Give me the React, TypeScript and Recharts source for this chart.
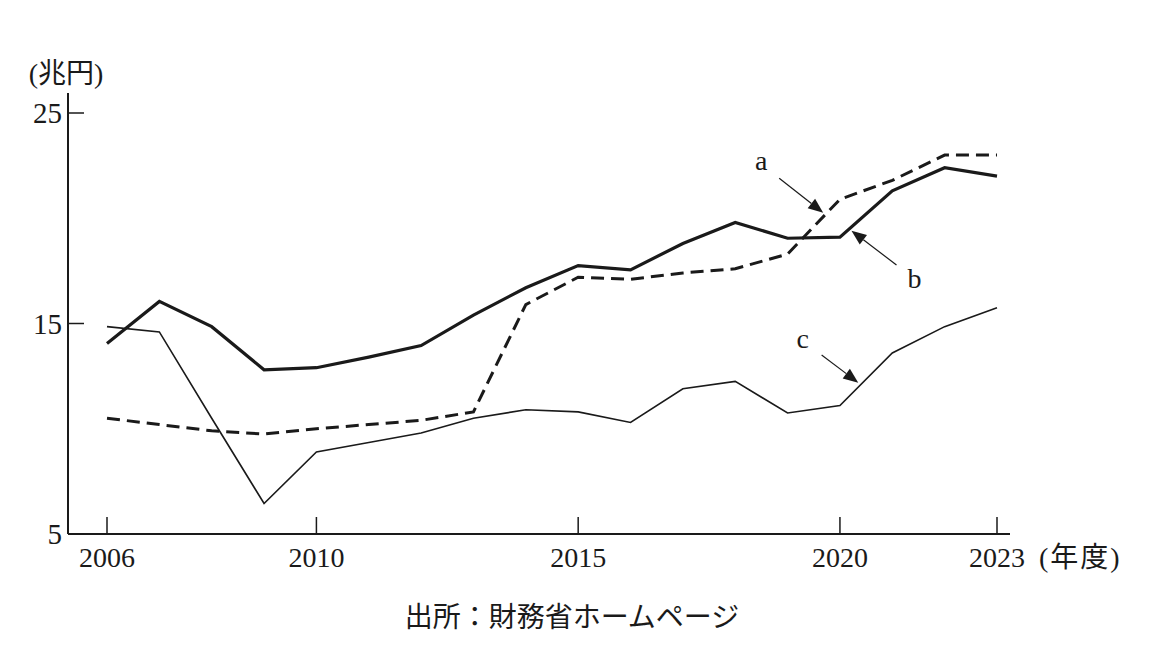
import { LineChart, Line, XAxis, YAxis, ReferenceLine } from 'recharts'

const years = [2006, 2007, 2008, 2009, 2010, 2011, 2012, 2013, 2014, 2015, 2016, 2017, 2018, 2019, 2020, 2021, 2022, 2023]
const seriesA = [10.5, 10.2, 9.9, 9.75, 10.0, 10.2, 10.4, 10.8, 15.9, 17.2, 17.1, 17.4, 17.6, 18.3, 20.9, 21.8, 23.0, 23.0]
const seriesB = [14.05, 16.05, 14.85, 12.8, 12.9, 13.4, 13.95, 15.4, 16.7, 17.75, 17.55, 18.8, 19.8, 19.05, 19.1, 21.3, 22.4, 22.0]
const seriesC = [14.85, 14.6, 10.5, 6.45, 8.9, 9.35, 9.8, 10.5, 10.9, 10.8, 10.3, 11.9, 12.25, 10.75, 11.1, 13.6, 14.85, 15.75]

const xTicks = [2006, 2010, 2015, 2020, 2023]
const yTicks = [5, 15, 25]

// annotation arrows: label, start (year, value), tip (year, value)
const arrows = [
  { label: 'a', from: { x: 2018.84, y: 21.9 }, to: { x: 2019.68, y: 20.26 }, dx: -18, dy: -8 },
  { label: 'b', from: { x: 2021.08, y: 17.78 }, to: { x: 2020.22, y: 19.41 }, dx: 18, dy: 23 },
  { label: 'c', from: { x: 2019.65, y: 13.5 }, to: { x: 2020.35, y: 12.19 }, dx: -19, dy: -7 },
]

const data = years.map((year, i) => ({ year, a: seriesA[i], b: seriesB[i], c: seriesC[i] }))

const FONT = "'Liberation Serif', 'Noto Sans CJK JP', serif"
const INK = '#1a1a1a'

const XTick = (props: any) => {
  const { x, y, payload } = props
  return (
    <g>
      <line x1={x} y1={y} x2={x} y2={y - 17} stroke={INK} strokeWidth={1.5} />
      <text x={x} y={y + 33} textAnchor="middle" fontSize={28} fontFamily={FONT} fill={INK}>
        {payload.value}
      </text>
    </g>
  )
}

const YTick = (props: any) => {
  const { x, y, payload } = props
  return (
    <g>
      <line x1={x} y1={y} x2={x + 16} y2={y} stroke={INK} strokeWidth={1.5} />
      <text x={x - 6} y={y + 10} textAnchor="end" fontSize={29} fontFamily={FONT} fill={INK}>
        {payload.value}
      </text>
    </g>
  )
}

const arrowShape = (label: string, dx: number, dy: number) => (props: any) => {
  const { x1, y1, x2, y2 } = props
  const len = Math.hypot(x2 - x1, y2 - y1)
  const ux = (x2 - x1) / len
  const uy = (y2 - y1) / len
  const head = 15
  const half = 6
  const bx = x2 - ux * head
  const by = y2 - uy * head
  const pts = `${x2},${y2} ${bx - uy * half},${by + ux * half} ${bx + uy * half},${by - ux * half}`
  return (
    <g>
      <line x1={x1} y1={y1} x2={bx} y2={by} stroke={INK} strokeWidth={1.2} />
      <polygon points={pts} fill={INK} />
      <text x={x1 + dx} y={y1 + dy} textAnchor="middle" fontSize={28} fontFamily={FONT} fill={INK}>
        {label}
      </text>
    </g>
  )
}

export default function App() {
  return (
    <div style={{ position: 'absolute', left: 0, top: 0, width: 1172, height: 652, background: '#fff' }}>
      <LineChart width={1172} height={652} data={data} margin={{ top: 93, right: 162, bottom: 88, left: 8 }}>
        <XAxis
          dataKey="year"
          type="number"
          domain={[2006, 2023]}
          ticks={xTicks}
          padding={{ left: 39, right: 13 }}
          height={30}
          tickSize={0}
          tickMargin={0}
          tickLine={false}
          axisLine={{ stroke: INK, strokeWidth: 2 }}
          tick={<XTick />}
          interval={0}
        />
        <YAxis
          type="number"
          domain={[5, 25]}
          ticks={yTicks}
          padding={{ top: 20 }}
          width={60}
          tickSize={0}
          tickMargin={0}
          tickLine={false}
          axisLine={{ stroke: INK, strokeWidth: 2 }}
          tick={<YTick />}
          interval={0}
        />
        <Line dataKey="a" type="linear" stroke={INK} strokeWidth={3} strokeDasharray="13 7" dot={false} isAnimationActive={false} />
        <Line dataKey="b" type="linear" stroke={INK} strokeWidth={3.2} dot={false} isAnimationActive={false} />
        <Line dataKey="c" type="linear" stroke={INK} strokeWidth={1.6} dot={false} isAnimationActive={false} />
        {arrows.map((ar) => (
          <ReferenceLine
            key={ar.label}
            segment={[ar.from, ar.to]}
            ifOverflow="visible"
            shape={arrowShape(ar.label, ar.dx, ar.dy)}
          />
        ))}
      </LineChart>
      <svg width={1172} height={652} style={{ position: 'absolute', left: 0, top: 0, pointerEvents: 'none' }}>
        <text x={66} y={83} textAnchor="middle" fontSize={28} fontFamily={FONT} fill={INK}>(兆円)</text>
        <text x={1039} y={567} textAnchor="start" fontSize={28} fontFamily={FONT} fill={INK} letterSpacing={2}>(年度)</text>
        <text x={572} y={627} textAnchor="middle" fontSize={28} fontFamily={FONT} fill={INK}>出所：財務省ホームページ</text>
      </svg>
    </div>
  )
}
